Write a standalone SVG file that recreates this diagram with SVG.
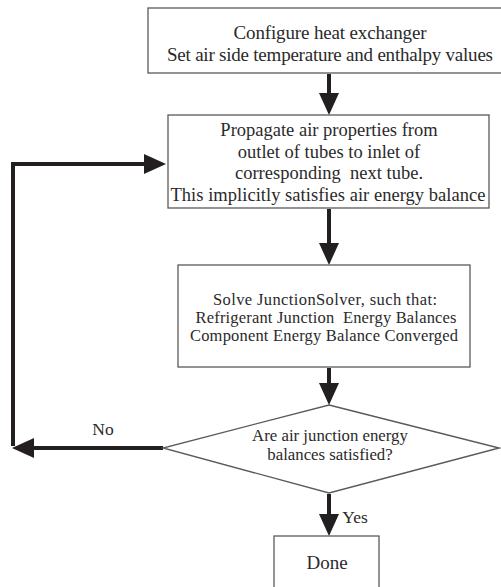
<svg xmlns="http://www.w3.org/2000/svg" width="501" height="587" viewBox="0 0 501 587">
  <defs>
    <marker id="head" markerWidth="5.5" markerHeight="5" refX="4" refY="2.5" orient="auto" markerUnits="strokeWidth">
      <path d="M0,0 L5.5,2.5 L0,5 Z" fill="#231f20"/>
    </marker>
    <style>
      .box { fill: #ffffff; stroke: #5a5a5a; stroke-width: 1.3; }
      .t { font-family: "Liberation Serif", "Times New Roman", serif; fill: #2a2a2a; text-anchor: middle; }
      .xl { font-size: 19px; }
      .big { font-size: 18.5px; }
      .mid { font-size: 17.5px; }
      .md2 { font-size: 16.5px; }
      .sm { font-size: 16.8px; }
      .conn { fill: none; stroke: #231f20; stroke-width: 4; }
    </style>
  </defs>
  <rect width="501" height="587" fill="#ffffff"/>

  <g id="connectors">
    <path class="conn" d="M329,74 V109" marker-end="url(#head)"/>
    <path class="conn" d="M329,209 V259" marker-end="url(#head)"/>
    <path class="conn" d="M329,368 V399" marker-end="url(#head)"/>
    <path class="conn" d="M329,494 V530" marker-end="url(#head)"/>
    <path class="conn" d="M163,448 H18" marker-end="url(#head)"/>
    <path class="conn" d="M13,446 V164 H160" marker-end="url(#head)"/>
    <text class="t mid" x="103" y="435">No</text>
    <text class="t mid" x="355" y="523">Yes</text>
  </g>

  <g id="configure">
    <rect class="box" x="148" y="8" width="370" height="65"/>
    <text class="t xl" x="330" y="39" textLength="193" lengthAdjust="spacing">Configure heat exchanger</text>
    <text class="t xl" x="330" y="61" textLength="326" lengthAdjust="spacing">Set air side temperature and enthalpy values</text>
  </g>

  <g id="propagate">
    <rect class="box" x="168" y="115" width="321" height="93"/>
    <text class="t big" x="329" y="136">Propagate air properties from</text>
    <text class="t big" x="329" y="158">outlet of tubes to inlet of</text>
    <text class="t big" x="329" y="179" xml:space="preserve">corresponding  next tube.</text>
    <text class="t big" x="328" y="201" textLength="315" lengthAdjust="spacing">This implicitly satisfies air energy balance</text>
  </g>

  <g id="solver">
    <rect class="box" x="178" y="265" width="292" height="102"/>
    <text class="t md2" x="325" y="305" textLength="224" lengthAdjust="spacing">Solve JunctionSolver, such that:</text>
    <text class="t md2" x="326" y="323" textLength="261" lengthAdjust="spacing" xml:space="preserve">Refrigerant Junction  Energy Balances</text>
    <text class="t md2" x="324" y="341" textLength="268" lengthAdjust="spacing">Component Energy Balance Converged</text>
  </g>

  <g id="decision">
    <polygon class="box" points="329,405 499,448 329,493 163,448"/>
    <text class="t sm" x="330" y="441">Are air junction energy</text>
    <text class="t sm" x="330" y="460">balances satisfied?</text>
  </g>

  <g id="done">
    <rect class="box" x="274" y="536" width="105" height="60"/>
    <text class="t xl" x="327" y="569">Done</text>
  </g>
</svg>
